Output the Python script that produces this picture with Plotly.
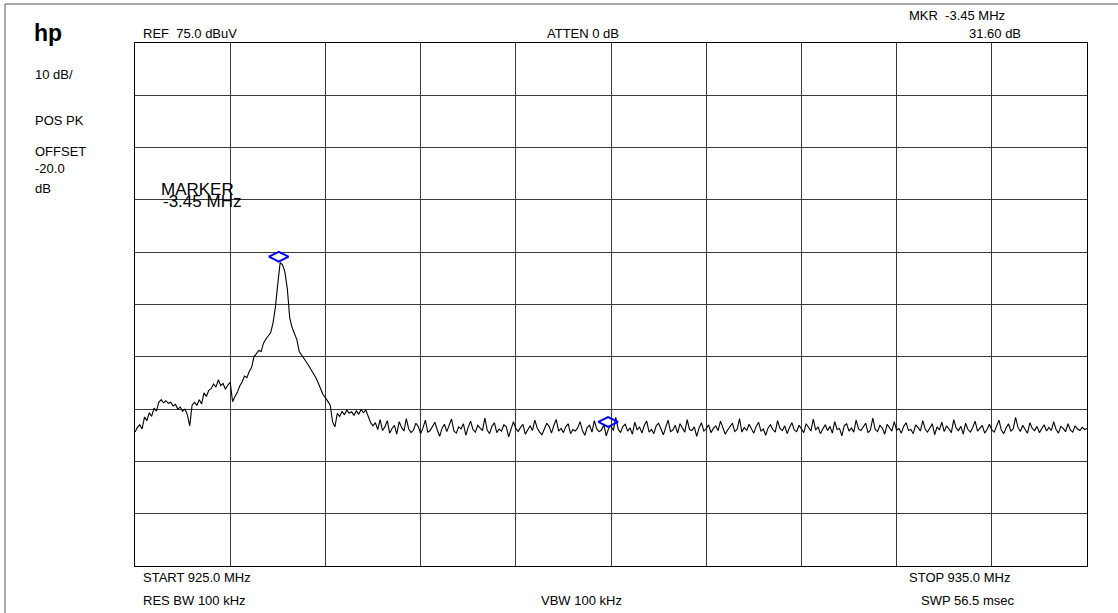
import plotly.graph_objects as go

W, H = 1118, 613

# ---- data -------------------------------------------------------------
start_mhz = 925.0
stop_mhz = 935.0
n_points = 401

level_dbuv = [
    # 0-100 : shoulder, carrier and skirt
    0.6, 1.5, 2.0, 1.2, 3.5, 2.8, 4.3, 3.6, 5.2, 4.6,
    6.3, 6.8, 6.2, 6.6, 6.1, 6.3, 5.6, 5.9, 5.0, 5.4,
    4.6, 5.0, 3.9, 1.8, 5.8, 6.3, 5.7, 6.8, 6.0, 8.1,
    7.4, 8.6, 8.9, 9.8, 9.2, 10.6, 9.5, 9.9, 8.8, 9.6,
    10.1, 6.4, 7.4, 8.2, 9.4, 10.2, 11.3, 11.0, 12.2, 13.0,
    15.0, 15.6, 16.2, 16.0, 17.6, 18.4, 18.9, 19.6, 21.5, 24.5,
    29.0, 33.0, 32.6, 31.2, 28.0, 22.5, 20.6, 19.6, 18.3, 16.0,
    15.4, 14.8, 14.0, 13.3, 12.6, 11.8, 11.0, 10.0, 8.9, 7.8,
    7.2, 6.4, 5.8, 2.6, 1.6, 4.2, 3.6, 4.6, 3.9, 4.8,
    4.2, 4.5, 3.8, 4.7, 4.0, 4.9, 4.3, 4.8, 3.5, 2.4,
    1.8,
    # 101-400 : noise floor
    2.4, 1.1, 3.0, 0.9, 1.6, 2.8, 0.4, 1.3, 1.9, 0.2, 2.6, 1.5, 0.8, 3.2, 1.2, 0.5, 1.0, 2.3, 1.7, 0.3,
    1.4, 2.9, 0.6, 0.9, 1.8, 2.5, 1.0, -0.2, 1.3, 2.1, 0.7, 1.9, 3.1, 0.8, 0.4, 1.6, 1.2, 2.2, 0.0, 1.5,
    2.7, 1.1, 0.6, 1.9, 1.4, 0.9, 3.3, 1.0, 0.3, 1.7, 2.4, 0.5, 1.2, 0.8, 2.0, 1.6, -0.3, 1.1, 2.6, 1.3,
    0.7, 1.5, 2.1, 0.2, 1.0, 1.8, 0.9, 2.9, 1.4, 0.6, 0.1, 1.2, 2.3, 1.7, 0.4, 1.9, 3.0, 0.8, 1.3, 0.5,
    1.6, 2.2, 0.3, 1.1, 0.8, 1.4, 2.6, 0.9, 0.0, 1.5, 1.9, 0.6, 2.8, 1.2, 0.7, 1.0, 2.0, -0.1, 1.3, 1.8,
    0.9, 3.4, 1.2, 0.5, 1.7, 2.1, 0.8, 1.4, 0.2, 2.5, 1.0, 1.6, 0.4, 1.9, 2.7, 0.6, 1.1, 0.3, 1.8, 2.3,
    1.2, 0.1, 1.5, 2.9, 0.7, 1.0, 1.9, 0.4, 2.2, 1.3, 0.6, 3.0, 1.1, 0.9, 1.6, -0.2, 1.4, 2.4, 0.8, 1.2,
    2.0, 0.5, 1.3, 1.8, 0.9, 2.7, 1.4, 0.2, 1.0, 1.6, 2.3, 0.7, 1.1, 3.2, 0.6, 1.5, 0.9, 2.1, 1.3, 0.4,
    1.7, 2.5, 0.8, 1.2, 0.0, 1.4, 2.0, 1.1, 0.6, 2.8, 1.3, 0.9, 1.8, 0.3, 1.5, 2.4, 1.0, 0.7, 1.9, 1.2,
    0.5, 2.2, 1.4, 0.8, 3.1, 1.0, 1.6, 0.3, 1.2, 2.0, 0.9, 1.7, 0.4, 2.6, 1.1, 1.3, -0.1, 1.8, 2.2, 0.8,
    1.4, 0.6, 2.9, 1.2, 0.9, 1.6, 2.3, 0.5, 1.0, 3.3, 1.1, 0.7, 1.9, 1.4, 0.2, 2.1, 1.5, 0.8, 2.6, 1.0,
    1.3, 0.4, 1.7, 2.4, 0.9, 1.1, 0.3, 2.0, 1.5, 0.8, 2.8, 1.2, 0.6, 1.4, 2.2, 0.1, 1.6, 1.0, 2.5, 0.7,
    1.8, 1.2, 0.5, 3.0, 1.4, 0.9, 1.7, 0.2, 2.3, 1.1, 0.6, 1.5, 2.7, 0.8, 1.3, 1.9, 0.4, 1.1, 2.1, 1.0,
    0.6, 1.6, 2.9, 1.0, 0.3, 1.4, 2.2, 0.8, 1.2, 3.4, 1.5, 0.7, 1.9, 1.1, 0.4, 2.4, 1.3, 0.9, 1.7, 0.5,
    1.2, 2.0, 0.8, 1.5, 0.9, 2.6, 1.1, 0.4, 1.7, 1.3, 0.7, 2.2, 1.0, 0.6, 1.8, 1.2, 0.9, 1.5, 1.1, 1.3,
]

marker_freq = [926.51, 929.97]
marker_level = [33.0, 1.4]

ref_level = 75.0
db_per_div = 10.0
n_ydiv = 10
n_xdiv = 10

step = (stop_mhz - start_mhz) / (n_points - 1)
freq_mhz = [start_mhz + i * step for i in range(len(level_dbuv))]

# ---- figure -----------------------------------------------------------
L, R, T, B = 135, 1087, 43, 566
xd = [L / W, R / W]
yd = [1 - B / H, 1 - T / H]
shift = 6 / H  # marker diamonds drawn sitting on top of the trace point

ymin = ref_level - n_ydiv * db_per_div

fig = go.Figure()
fig.add_trace(go.Scatter(
    x=freq_mhz, y=level_dbuv, mode="lines",
    line=dict(color="black", width=1.1), xaxis="x", yaxis="y",
    hoverinfo="skip", showlegend=False,
))
fig.add_trace(go.Scatter(
    x=marker_freq, y=marker_level, mode="markers",
    marker=dict(symbol="diamond-wide-open", size=14, color="#0000ff",
                line=dict(width=2, color="#0000ff")),
    xaxis="x2", yaxis="y2", cliponaxis=False, showlegend=False,
))

grid_col = "#3a3a3a"
fig.update_layout(
    width=W, height=H,
    margin=dict(l=0, r=0, t=0, b=0),
    paper_bgcolor="white", plot_bgcolor="rgba(0,0,0,0)",
    showlegend=False,
    xaxis=dict(domain=xd, range=[start_mhz, stop_mhz], dtick=(stop_mhz - start_mhz) / n_xdiv,
               tick0=start_mhz, showgrid=True, gridcolor=grid_col, gridwidth=1,
               showticklabels=False, ticks="", zeroline=False,
               showline=True, linecolor="black", linewidth=1, mirror=True, fixedrange=True),
    yaxis=dict(domain=yd, range=[ymin, ref_level], dtick=db_per_div, tick0=ymin,
               showgrid=True, gridcolor=grid_col, gridwidth=1,
               showticklabels=False, ticks="", zeroline=False,
               showline=True, linecolor="black", linewidth=1, mirror=True, fixedrange=True),
    xaxis2=dict(domain=xd, range=[start_mhz, stop_mhz], anchor="y2", visible=False,
                showgrid=False, zeroline=False, fixedrange=True),
    yaxis2=dict(domain=[yd[0] + shift, yd[1] + shift], range=[ymin, ref_level],
                anchor="x2", visible=False, showgrid=False, zeroline=False, fixedrange=True),
    font=dict(family="Liberation Sans, Arial, sans-serif", color="black", size=13),
)

# outer frame
fig.add_shape(type="rect", xref="paper", yref="paper",
              x0=5 / W, x1=1.01, y0=-0.01, y1=1 - 4 / H,
              line=dict(color="#555555", width=1), fillcolor="rgba(0,0,0,0)", layer="below")


def note(text, x, y, size=13, xanchor="left"):
    fig.add_annotation(text=text, xref="paper", yref="paper",
                       x=x / W, y=1 - y / H, xanchor=xanchor, yanchor="middle",
                       showarrow=False, font=dict(size=size, color="black"))


note("<b>hp</b>", 32, 33, size=23)
note("REF\u00a0\u00a075.0 dBuV", 141, 33)
note("ATTEN 0 dB", 583, 33, xanchor="center")
note("MKR\u00a0\u00a0-3.45 MHz", 907, 15)
note("31.60 dB", 1023, 33, xanchor="right")
note("10 dB/", 33, 75)
note("POS PK", 33, 121)
note("OFFSET", 33, 152)
note("-20.0", 33, 168)
note("dB", 33, 188)
note("MARKER", 159, 189, size=17)
note("-3.45 MHz", 161, 202, size=17)
note("START 925.0 MHz", 141, 577)
note("RES BW 100 kHz", 141, 600)
note("VBW 100 kHz", 581, 600, xanchor="center")
note("STOP 935.0 MHz", 907, 577)
note("SWP 56.5 msec", 919, 600)

fig.write_html("out.html")
